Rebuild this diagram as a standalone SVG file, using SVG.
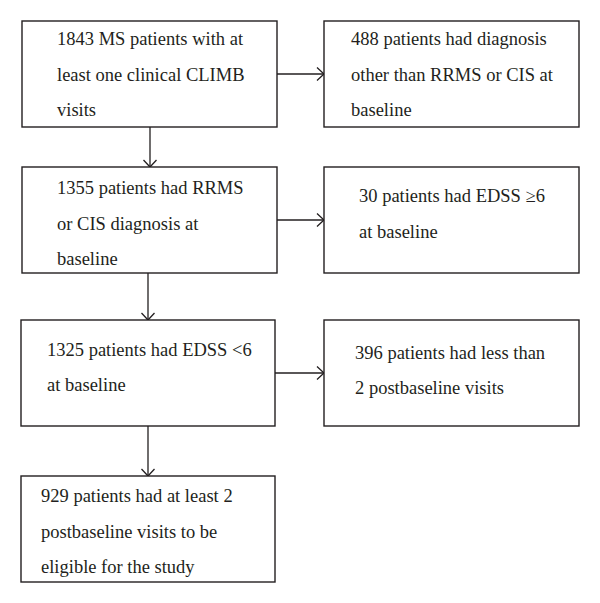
<svg xmlns="http://www.w3.org/2000/svg" width="600" height="603" viewBox="0 0 600 603">
<defs>
<style>
.box{fill:#fff;stroke:#231f20;stroke-width:1.4}
.t{font-family:"Liberation Serif","Times New Roman",serif;font-size:18.5px;fill:#231f20}
.c{stroke:#231f20;stroke-width:1.3;fill:none}
</style>
<marker id="ah" viewBox="0 0 10 14" refX="9.5" refY="7" markerWidth="10" markerHeight="14" markerUnits="userSpaceOnUse" orient="auto">
<path d="M2.5,0.5 L9.5,7 L2.5,13.5" fill="none" stroke="#231f20" stroke-width="1.3"/>
</marker>
</defs>
<rect width="600" height="603" fill="#fff"/>
<g id="connectors">
<line class="c" x1="150" y1="127" x2="150" y2="167" marker-end="url(#ah)"/>
<line class="c" x1="148" y1="273" x2="148" y2="320" marker-end="url(#ah)"/>
<line class="c" x1="148" y1="426" x2="148" y2="476" marker-end="url(#ah)"/>
<line class="c" x1="277" y1="74" x2="324" y2="74" marker-end="url(#ah)"/>
<line class="c" x1="277" y1="220" x2="324" y2="220" marker-end="url(#ah)"/>
<line class="c" x1="275" y1="373" x2="324" y2="373" marker-end="url(#ah)"/>
</g>
<g id="n1">
<rect class="box" x="22" y="21" width="255" height="106"/>
<text class="t" x="57" y="45">1843 MS patients with at</text>
<text class="t" x="57" y="81">least one clinical CLIMB</text>
<text class="t" x="57" y="116">visits</text>
</g>
<g id="n2">
<rect class="box" x="324" y="21" width="255" height="106"/>
<text class="t" x="351" y="45">488 patients had diagnosis</text>
<text class="t" x="351" y="81">other than RRMS or CIS at</text>
<text class="t" x="351" y="116">baseline</text>
</g>
<g id="n3">
<rect class="box" x="22" y="167" width="255" height="106"/>
<text class="t" x="57" y="194">1355 patients had RRMS</text>
<text class="t" x="57" y="230">or CIS diagnosis at</text>
<text class="t" x="57" y="265">baseline</text>
</g>
<g id="n4">
<rect class="box" x="324" y="167" width="255" height="106"/>
<text class="t" x="359" y="202">30 patients had EDSS ≥6</text>
<text class="t" x="359" y="238">at baseline</text>
</g>
<g id="n5">
<rect class="box" x="21" y="320" width="254" height="106"/>
<text class="t" x="47" y="356">1325 patients had EDSS &lt;6</text>
<text class="t" x="47" y="391">at baseline</text>
</g>
<g id="n6">
<rect class="box" x="324" y="320" width="255" height="106"/>
<text class="t" x="355" y="359">396 patients had less than</text>
<text class="t" x="355" y="394">2 postbaseline visits</text>
</g>
<g id="n7">
<rect class="box" x="21" y="476" width="254" height="106"/>
<text class="t" x="41" y="502">929 patients had at least 2</text>
<text class="t" x="41" y="538">postbaseline visits to be</text>
<text class="t" x="41" y="573">eligible for the study</text>
</g>
</svg>
